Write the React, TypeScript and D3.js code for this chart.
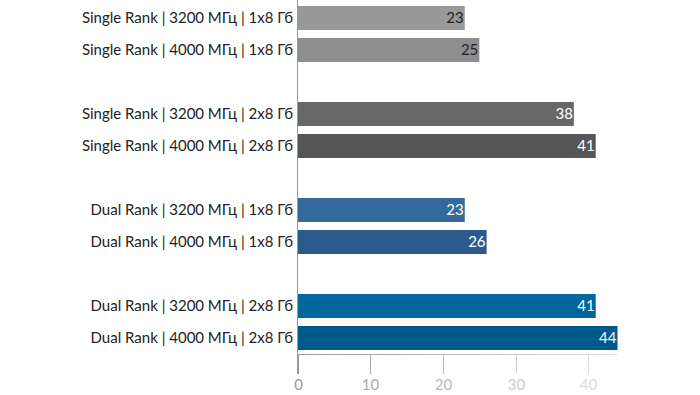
import React from "react";
import * as d3 from "d3";

const categories = [
  "Single Rank | 3200 МГц | 1x8 Гб",
  "Single Rank | 4000 МГц | 1x8 Гб",
  "Single Rank | 3200 МГц | 2x8 Гб",
  "Single Rank | 4000 МГц | 2x8 Гб",
  "Dual Rank | 3200 МГц | 1x8 Гб",
  "Dual Rank | 4000 МГц | 1x8 Гб",
  "Dual Rank | 3200 МГц | 2x8 Гб",
  "Dual Rank | 4000 МГц | 2x8 Гб",
];
const values = [23, 25, 38, 41, 23, 26, 41, 44];
const barColors = ["#999999", "#8e8e8e", "#676767", "#555555", "#34699b", "#2c5a8c", "#00669b", "#00598b"];
const labelColors = ["#222222", "#222222", "#ffffff", "#ffffff", "#ffffff", "#ffffff", "#ffffff", "#ffffff"];
const tickValues = [0, 10, 20, 30, 40];

const W = 700;
const H = 395;
const FONT = "Lato, 'Open Sans', sans-serif";

export default function App() {
  const x = d3.scaleLinear().domain([0, 44]).range([297.5, 617.5]);
  const slots = d3.range(11);
  const y = d3.scaleBand<number>().domain(slots).range([2, 354]).paddingInner(0.25).paddingOuter(0.125);
  const slotOf = (i: number) => i + Math.floor(i / 2);
  const fade = d3.interpolateRgb("#999999", "#e2e2e2");
  const fx = (px: number) => fade((px - 297.5) / (617.5 - 297.5));
  const axisY = 354.5;

  return (
    <svg width={W} height={H} style={{ position: "absolute", left: 0, top: 0 }}>
      <defs>
        <linearGradient id="axfade" gradientUnits="userSpaceOnUse" x1={297.5} x2={617.5} y1={0} y2={0}>
          <stop offset="0" stopColor="#999999" />
          <stop offset="1" stopColor="#e2e2e2" />
        </linearGradient>
      </defs>
      {values.map((v, i) => {
        const yy = y(slotOf(i))!;
        const bw = y.bandwidth();
        return (
          <g key={i}>
            <rect x={x(0)} y={yy} width={x(v) - x(0)} height={bw} fill={barColors[i]} />
            <text
              x={x(v) - 1}
              y={yy + bw / 2}
              dy="0.36em"
              textAnchor="end"
              fontFamily={FONT}
              fontSize={15}
              fill={labelColors[i]}
            >
              {v}
            </text>
            <text
              x={293}
              y={yy + bw / 2}
              dy="0.36em"
              textAnchor="end"
              fontFamily={FONT}
              fontSize={15}
              fill="#222222"
            >
              {categories[i]}
            </text>
          </g>
        );
      })}
      <line x1={x(0)} x2={x(44)} y1={axisY} y2={axisY} stroke="url(#axfade)" strokeWidth={1} />
      <line x1={297.5} x2={297.5} y1={0} y2={374} stroke="#999999" strokeWidth={1} />
      {tickValues.map((t) => {
        const px = Math.round(x(t)) + 0.5;
        return (
          <g key={t}>
            <line x1={px} x2={px} y1={axisY} y2={374} stroke={fx(px)} strokeWidth={1} />
            <text
              x={px}
              y={390}
              textAnchor="middle"
              fontFamily={FONT}
              fontSize={15}
              fill={fx(px)}
            >
              {t}
            </text>
          </g>
        );
      })}
    </svg>
  );
}
